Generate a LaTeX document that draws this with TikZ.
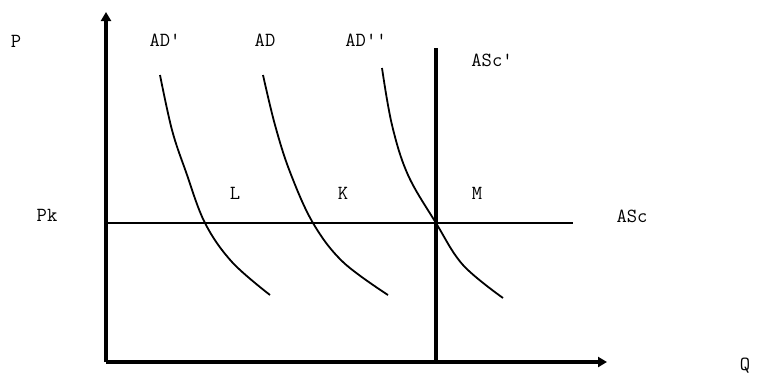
\documentclass[tikz,border=0pt]{standalone}
\usepackage{fontspec}
\usetikzlibrary{arrows.meta}
\begin{document}
\begin{tikzpicture}[x=1pt,y=-1pt,
  lbl/.style={inner sep=0pt,font=\ttfamily\fontsize{20}{20}\selectfont\addfontfeatures{LetterSpace=12}},
  axis/.style={line width=4.5pt,-{Triangle[length=9pt,width=10pt]}},
  curve/.style={line width=1.8pt},
  thick line/.style={line width=4.5pt}]
\useasboundingbox (0,0) rectangle (760,376);
% axes
\coordinate (O) at (106,362);
\coordinate (Ytop) at (106,12);
\coordinate (Xend) at (607,362);
\draw[axis] (O) -- (Ytop);
\draw[axis] (O) -- (Xend);
% horizontal ASc line
\coordinate (H1) at (106,223);
\coordinate (H2) at (573,223);
\draw[line width=1.6pt] (H1) -- (H2);
% vertical ASc' line
\coordinate (V1) at (436,48);
\coordinate (V2) at (436,362);
\draw[thick line] (V1) -- (V2);
% demand curves
\draw[curve] plot[smooth,tension=0.6] coordinates {(160,75) (172,130) (186,172) (205,223) (232,262) (270,295)};
\draw[curve] plot[smooth,tension=0.6] coordinates {(263,75) (275,125) (290,172) (313,223) (343,262) (388,295)};
\draw[curve] plot[smooth,tension=0.6] coordinates {(382,68) (392,125) (408,175) (436,223) (463,265) (503,298)};
% labels
\node[lbl] (P) at (16,41) {P};
\node[lbl] (ADp) at (165,40) {AD'};
\node[lbl] (AD) at (265,40) {AD};
\node[lbl] (ADpp) at (366,40) {AD''};
\node[lbl] (AScp) at (492,60) {ASc'};
\node[lbl] (Pk) at (47,215) {Pk};
\node[lbl] (L) at (235,193) {L};
\node[lbl] (K) at (343,193) {K};
\node[lbl] (M) at (477,193) {M};
\node[lbl] (ASc) at (632,216) {ASc};
\node[lbl] (Q) at (745,366) {Q};
\end{tikzpicture}
\end{document}
